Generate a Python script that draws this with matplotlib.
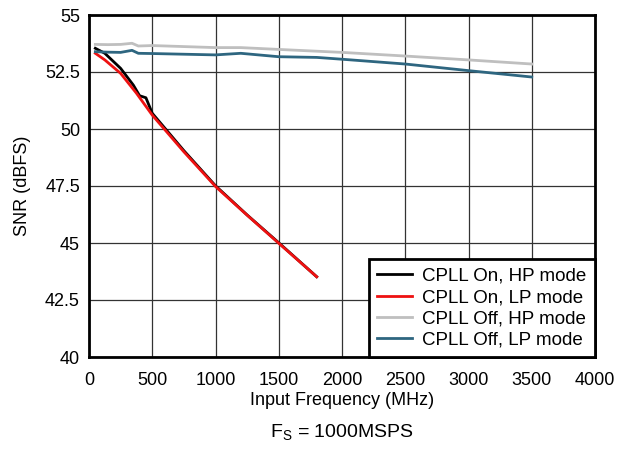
import matplotlib
matplotlib.use("Agg")
import matplotlib.pyplot as plt

plt.rcParams['font.family'] = ['Liberation Sans', 'DejaVu Sans']

f_on_hp = [50, 125, 250, 350, 400, 450, 500, 750, 1000, 1250, 1500, 1800]
snr_on_hp = [53.54, 53.32, 52.66, 51.93, 51.46, 51.37, 50.69, 49.05, 47.51, 46.23, 45.01, 43.52]

f_on_lp = [50, 125, 250, 375, 500, 750, 1000, 1250, 1500, 1800]
snr_on_lp = [53.32, 53.03, 52.44, 51.57, 50.61, 49.0, 47.48, 46.22, 44.99, 43.52]

f_off_hp = [50, 150, 250, 340, 390, 500, 1000, 1200, 1500, 2000, 2500, 3000, 3500]
snr_off_hp = [53.71, 53.70, 53.71, 53.76, 53.64, 53.66, 53.57, 53.57, 53.49, 53.36, 53.2, 53.03, 52.85]

f_off_lp = [50, 150, 250, 340, 390, 500, 1000, 1200, 1500, 1800, 2000, 2500, 3000, 3500]
snr_off_lp = [53.39, 53.37, 53.36, 53.45, 53.32, 53.31, 53.25, 53.32, 53.17, 53.14, 53.06, 52.85, 52.56, 52.28]

labels = ['CPLL On, HP mode', 'CPLL On, LP mode', 'CPLL Off, HP mode', 'CPLL Off, LP mode']
colors = ['#000000', '#ee1111', '#bfbfbf', '#2e6680']

xticks = [0, 500, 1000, 1500, 2000, 2500, 3000, 3500, 4000]
yticks = [40, 42.5, 45, 47.5, 50, 52.5, 55]
ytick_labels = ['40', '42.5', '45', '47.5', '50', '52.5', '55']

fig = plt.figure(figsize=(6.27, 4.57), dpi=100)
ax = fig.add_axes([89/627, 1-357/457, (595-89)/627, (357-15)/457])

series = [(f_on_hp, snr_on_hp), (f_on_lp, snr_on_lp), (f_off_hp, snr_off_hp), (f_off_lp, snr_off_lp)]
order = [2, 3, 0, 1]
lines = {}
for i in order:
    x, y = series[i]
    ln, = ax.plot(x, y, color=colors[i], lw=2, label=labels[i], zorder=3 + i)
    lines[i] = ln

ax.set_xlim(0, 4000)
ax.set_ylim(40, 55)
ax.set_xticks(xticks)
ax.set_yticks(yticks)
ax.set_yticklabels(ytick_labels)
ax.grid(True, color='#333333', lw=0.9)
ax.set_axisbelow(True)
for s in ax.spines.values():
    s.set_linewidth(2)
ax.tick_params(axis='x', length=0, labelsize=13, pad=11)
ax.tick_params(axis='y', length=0, labelsize=13, pad=6.5)
ax.set_xlabel('Input Frequency (MHz)', fontsize=13, labelpad=2)
ax.set_ylabel('SNR (dBFS)', fontsize=13)
ax.yaxis.set_label_coords((31-89)/506, 0.5)

leg = ax.legend([lines[i] for i in range(4)], labels, loc='lower right', fontsize=13.5,
                frameon=True, fancybox=False, borderaxespad=0, handlelength=1.87,
                labelspacing=0.22, borderpad=0.45, handletextpad=0.55)
leg.get_frame().set_edgecolor('black')
leg.get_frame().set_linewidth(2)
leg.get_frame().set_alpha(1)

fig.text((89+595)/2/627, 1-433/457, r'F$_\mathregular{S}$ = 1000MSPS', ha='center', va='center', fontsize=14)

fig.savefig('out.png', dpi=100)
